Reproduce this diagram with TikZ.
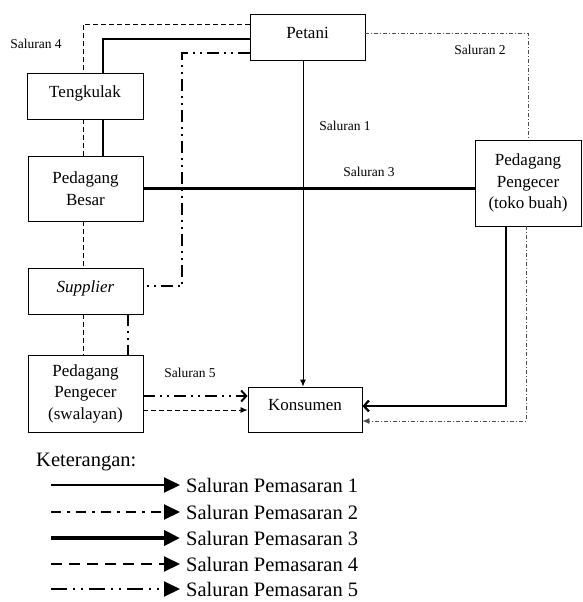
\documentclass[tikz,border=0pt]{standalone}
\usepackage{fontspec}
\setmainfont{Liberation Serif}
\usetikzlibrary{arrows.meta}
\begin{document}
\begin{tikzpicture}[
x=1pt,y=-1pt,
box/.style={draw,line width=0.9pt,align=center,inner sep=0pt,font=\fontsize{17}{21.5}\selectfont},
one/.style={text height=12pt,text depth=10pt},
lbl/.style={font=\fontsize{13.5}{16}\selectfont},
ch1/.style={line width=0.9pt,-{Latex[length=7pt,width=6pt]}},
ch2/.style={line width=0.8pt,black!70,dash pattern=on 4pt off 2pt on 1pt off 2pt,-{Latex[length=7pt,width=6pt]}},
ch3/.style={line width=2.2pt,-{Straight Barb[length=5pt,width=11pt]}},
ch4/.style={line width=0.8pt,dash pattern=on 5pt off 3pt,-{Latex[length=7pt,width=6pt]}},
ch5/.style={line width=2pt,dash pattern=on 12pt off 5pt on 2pt off 5pt on 2pt off 5pt,-{Straight Barb[length=5pt,width=11pt]}},
leg1/.style={line width=2pt},
leg2/.style={line width=2pt,dash pattern=on 10pt off 6pt on 3pt off 6pt},
leg3/.style={line width=4pt},
leg4/.style={line width=2pt,dash pattern=on 11pt off 7pt},
leg5/.style={line width=2pt,dash pattern=on 16pt off 6pt on 2pt off 6pt on 2pt off 6pt}
]
\useasboundingbox (0,0) rectangle (582,602);
\node[box,one,minimum width=115pt,minimum height=46pt] (petani) at (307.5,37) {Petani};
\node[box,one,minimum width=116pt,minimum height=46pt] (teng) at (85,96) {Tengkulak};
\node[box,minimum width=115pt,minimum height=65pt] (besar) at (85.5,188.5) {Pedagang\\Besar};
\node[box,one,minimum width=115pt,minimum height=46pt] (sup) at (85.5,291) {\itshape Supplier};
\node[box,minimum width=115pt,minimum height=77pt] (swal) at (85.5,393.5) {Pedagang\\Pengecer\\(swalayan)};
\node[box,one,minimum width=114pt,minimum height=45pt] (kons) at (305,409.5) {Konsumen};
\node[box,minimum width=106pt,minimum height=86pt] (toko) at (528,183) {Pedagang\\Pengecer\\(toko buah)};

\node[lbl] (l1) at (345,126) {Saluran 1};
\node[lbl] (l2) at (480,50) {Saluran 2};
\node[lbl] (l3) at (369,172) {Saluran 3};
\node[lbl] (l4) at (36,44) {Saluran 4};
\node[lbl] (l5) at (190,373) {Saluran 5};

\draw[ch1] ([xshift=-2pt]kons.north |- petani.south) -- ([xshift=-2pt]kons.north);
\draw[ch2,-] ([yshift=4pt]petani.east) -| (toko.north);
\draw[ch2] ([xshift=-2pt]toko.south) |- ([yshift=-11.5pt]kons.east);
\draw[ch3,-] ([yshift=-2pt]petani.west) -| ([xshift=18pt]teng.north);
\draw[ch3,-] ([xshift=18pt]teng.south) -- ([xshift=17.5pt]besar.north);
\draw[ch3,-] (besar.east) -- (besar.east -| toko.west);
\draw[ch3] ([xshift=-22pt]toko.south) |- ([yshift=3.5pt]kons.east);
\draw[ch4,-] ([yshift=13pt]petani.west) -| ([xshift=-2pt]teng.north);
\draw[ch4,-] ([xshift=-2pt]teng.south) -- ([xshift=-2.5pt]besar.north);
\draw[ch4,-] ([xshift=-2.5pt]besar.south) -- ([xshift=-2.5pt]sup.north);
\draw[ch4,-] ([xshift=-2.5pt]sup.south) -- ([xshift=-2.5pt]swal.north);
\draw[ch4] ([yshift=-16.5pt]swal.east) -- ([yshift=-16.5pt]swal.east -| kons.west);
\draw[ch5,-] ([yshift=-16pt]petani.west) -| ([xshift=39pt,yshift=5pt]sup.east) -- ([yshift=5pt]sup.east);
\draw[ch5,-] ([xshift=42.5pt]sup.south) -- ([xshift=42.5pt]swal.north);
\draw[ch5] ([yshift=-2.5pt]swal.east) -- ([yshift=-2.5pt]swal.east -| kons.west);

\node[anchor=west,inner sep=0pt,font=\fontsize{20.5}{23}\selectfont] (ket) at (36,462) {Keterangan:};
\foreach \i/\y in {1/485,2/512,3/538,4/564,5/589}{
  \coordinate (a\i) at (51,\y);
  \node[anchor=west,inner xsep=6pt,inner ysep=0pt,font=\fontsize{20.5}{23}\selectfont] (t\i) at (180,\y) {Saluran Pemasaran \i};
  \draw[leg\i,-{Triangle[length=16pt,width=15pt]}] (a\i) -- (t\i.west);
}
\end{tikzpicture}
\end{document}
